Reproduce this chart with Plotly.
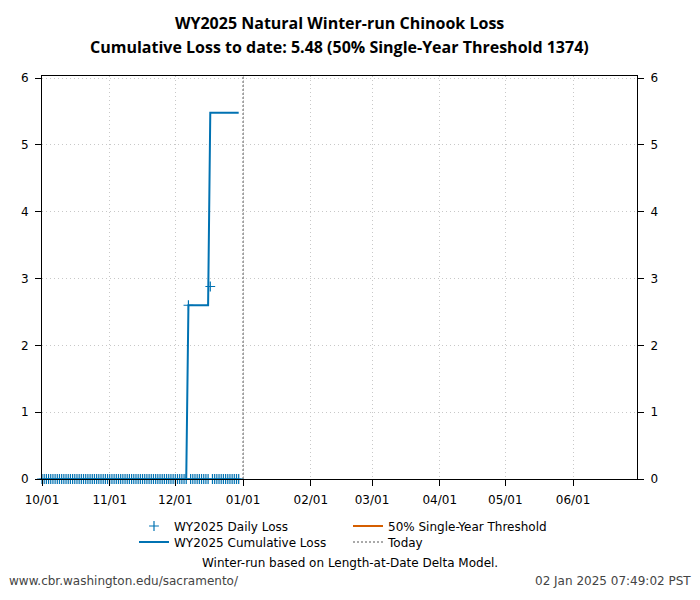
import pandas as pd
import plotly.graph_objects as go

# ---- data ----
dates = pd.date_range("2024-10-01", "2024-12-30", freq="D")
daily_loss = [
    0, 0, 0, 0, 0, 0, 0, 0, 0, 0,      # Oct 1-10
    0, 0, 0, 0, 0, 0, 0, 0, 0, 0,      # Oct 11-20
    0, 0, 0, 0, 0, 0, 0, 0, 0, 0, 0,   # Oct 21-31
    0, 0, 0, 0, 0, 0, 0, 0, 0, 0,      # Nov 1-10
    0, 0, 0, 0, 0, 0, 0, 0, 0, 0,      # Nov 11-20
    0, 0, 0, 0, 0, 0, 0, 0, 0, 0,      # Nov 21-30
    0, 0, 0, 0, 0, 0, 2.60, 0, 0, 0,   # Dec 1-10
    0, 0, 0, 0, 0, 0, 2.88, 0, 0, 0,   # Dec 11-20
    0, 0, 0, 0, 0, 0, 0, 0, 0, 0,      # Dec 21-30
]
cumulative_loss = [
    0, 0, 0, 0, 0, 0, 0, 0, 0, 0,
    0, 0, 0, 0, 0, 0, 0, 0, 0, 0,
    0, 0, 0, 0, 0, 0, 0, 0, 0, 0, 0,
    0, 0, 0, 0, 0, 0, 0, 0, 0, 0,
    0, 0, 0, 0, 0, 0, 0, 0, 0, 0,
    0, 0, 0, 0, 0, 0, 0, 0, 0, 0,
    0, 0, 0, 0, 0, 0, 2.60, 2.60, 2.60, 2.60,
    2.60, 2.60, 2.60, 2.60, 2.60, 2.60, 5.48, 5.48, 5.48, 5.48,
    5.48, 5.48, 5.48, 5.48, 5.48, 5.48, 5.48, 5.48, 5.48, 5.48,
]
threshold = 1374
threshold_dates = ["2024-10-01", "2025-06-30"]
today_date = "2025-01-01"
tick_dates = ["2024-10-01", "2024-11-01", "2024-12-01", "2025-01-01", "2025-02-01",
              "2025-03-01", "2025-04-01", "2025-05-01", "2025-06-01"]
tick_labels = ["10/01", "11/01", "12/01", "01/01", "02/01", "03/01", "04/01", "05/01", "06/01"]
y_ticks = [0, 1, 2, 3, 4, 5, 6]
y_max = 6.03
x_range = ["2024-10-01", "2025-06-30 06:00"]
title_lines = ["WY2025 Natural Winter-run Chinook Loss",
               "Cumulative Loss to date: 5.48 (50% Single-Year Threshold 1374)"]

BLUE = "#0072B2"
ORANGE = "#D55E00"
FONT = "DejaVu Sans"

# plot area in pixels
L, R, T, B = 42, 637, 76, 479
PW, PH = R - L, B - T


def px(xp):
    return (xp - L) / PW


def py(yp):
    return (B - yp) / PH


fig = go.Figure()
fig.add_trace(go.Scatter(
    x=dates, y=daily_loss, mode="markers", name="WY2025 Daily Loss", legend="legend",
    marker=dict(symbol="cross-thin", size=7, line=dict(color=BLUE, width=1.2), color=BLUE),
    cliponaxis=False,
))
fig.add_trace(go.Scatter(
    x=threshold_dates, y=[threshold, threshold], mode="lines", legend="legend3",
    name="50% Single-Year Threshold", line=dict(color=ORANGE, width=2),
))
fig.add_trace(go.Scatter(
    x=dates, y=cumulative_loss, mode="lines", name="WY2025 Cumulative Loss", legend="legend2",
    line=dict(color=BLUE, width=2),
))
fig.add_trace(go.Scatter(
    x=[today_date, today_date], y=[0, y_max], mode="lines", name="Today", legend="legend4",
    line=dict(color="#555555", width=1, dash="2px,2px"),
))
# invisible trace for right axis labels
fig.add_trace(go.Scatter(x=[today_date], y=[0], yaxis="y2", mode="markers",
                         marker=dict(opacity=0), showlegend=False, hoverinfo="skip"))

axis_common = dict(showline=True, linecolor="black", linewidth=1, ticks="outside",
                   ticklen=6, tickcolor="black", tickfont=dict(family=FONT, size=12, color="black"),
                   zeroline=False, ticklabelstandoff=4)
grid = dict(showgrid=True, gridcolor="#c8c8c8", griddash="1px,3px", gridwidth=1)

leg_common = dict(orientation="v", xanchor="left", yanchor="middle", bgcolor="rgba(0,0,0,0)",
                  font=dict(family=FONT, size=12, color="black"), borderwidth=0)

fig.update_layout(
    width=700, height=600,
    margin=dict(l=L, r=700 - R, t=T, b=600 - B),
    plot_bgcolor="white", paper_bgcolor="white",
    font=dict(family=FONT, size=12, color="black"),
    showlegend=True,
    xaxis=dict(range=x_range, tickvals=tick_dates, ticktext=tick_labels, mirror=True,
               **grid, **axis_common),
    yaxis=dict(range=[0, y_max], tickvals=y_ticks, mirror=True, **grid, **axis_common),
    yaxis2=dict(range=[0, y_max], tickvals=y_ticks, overlaying="y", side="right",
                showgrid=False, **axis_common),
    legend=dict(x=px(134), y=py(526), **leg_common),
    legend2=dict(x=px(134), y=py(542), **leg_common),
    legend3=dict(x=px(348), y=py(526), **leg_common),
    legend4=dict(x=px(348), y=py(542), **leg_common),
)
for line_text, ypos in zip(title_lines, [23, 47]):
    fig.add_annotation(text="<b>" + line_text + "</b>", xref="paper", yref="paper",
                       x=0.5, y=py(ypos), xanchor="center", yanchor="middle",
                       showarrow=False, font=dict(family="Open Sans", size=16, color="black"))
fig.add_annotation(text="Winter-run based on Length-at-Date Delta Model.",
                   xref="paper", yref="paper", x=px(350), y=py(563),
                   xanchor="center", yanchor="middle", showarrow=False,
                   font=dict(family=FONT, size=12, color="black"))
fig.add_annotation(text="www.cbr.washington.edu/sacramento/",
                   xref="paper", yref="paper", x=px(7), y=py(581),
                   xanchor="left", yanchor="middle", showarrow=False,
                   font=dict(family=FONT, size=12, color="#444444"))
fig.add_annotation(text="02 Jan 2025 07:49:02 PST",
                   xref="paper", yref="paper", x=px(693), y=py(581),
                   xanchor="right", yanchor="middle", showarrow=False,
                   font=dict(family=FONT, size=12, color="#444444"))

fig.write_html("out.html")
